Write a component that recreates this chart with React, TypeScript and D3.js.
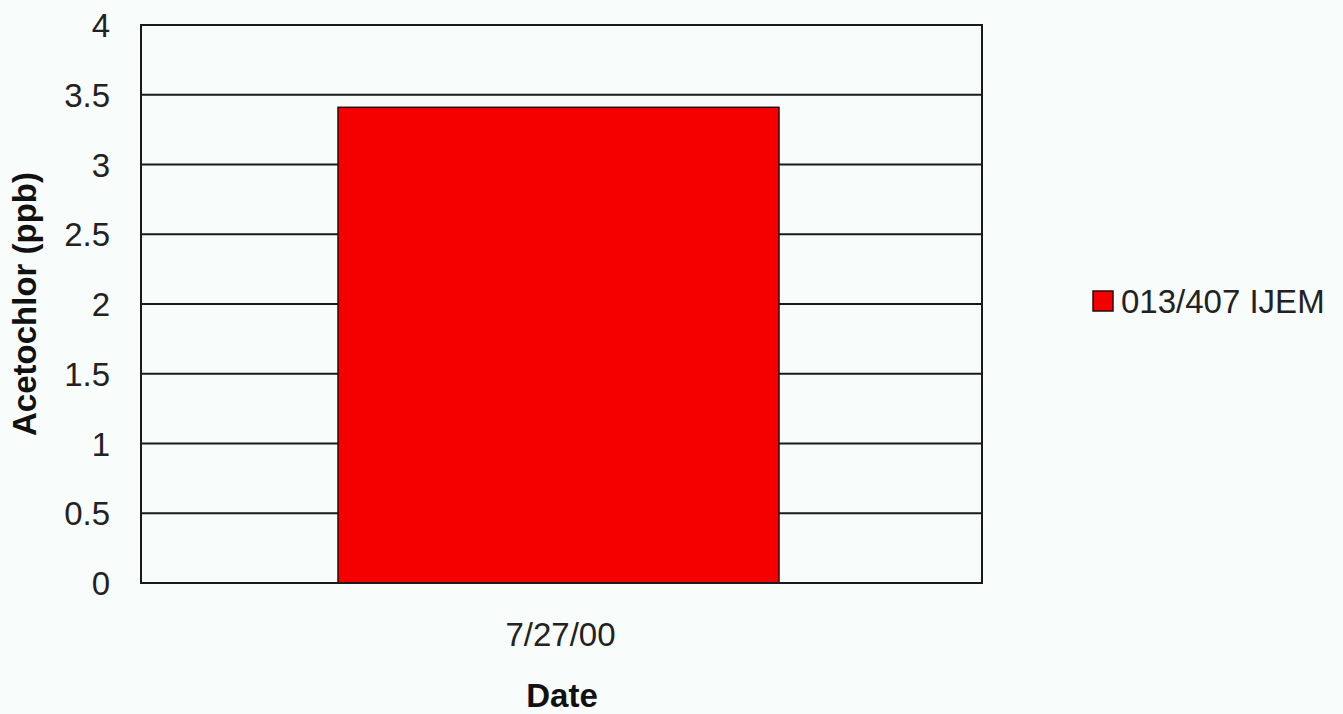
import React from "react";
import * as d3 from "d3";

const categories = ["7/27/00"];
const seriesName = "013/407 IJEM";
const values = [3.41];
const yTicks = [0, 0.5, 1, 1.5, 2, 2.5, 3, 3.5, 4];

export default function App() {
  const W = 1343, H = 714;
  const m = { left: 141, right: 982, top: 25, bottom: 583 };
  const x = d3
    .scaleBand()
    .domain(categories)
    .range([m.left, m.right])
    .paddingInner(0)
    .paddingOuter(0.4535)
    .align(0.4925);
  const y = d3.scaleLinear().domain([0, 4]).range([m.bottom, m.top]);
  const bw = x.bandwidth();
  const font = "'Liberation Sans', Arial, sans-serif";
  const fs = 33;
  return (
    <div style={{ position: "fixed", left: 0, top: 0 }}>
      <svg width={W} height={H} style={{ display: "block", background: "#f8fcfa" }}>
        <rect x={0} y={0} width={W} height={H} fill="#f8fcfa" />
        {yTicks.map((t) => (
          <g key={t}>
            <line x1={m.left} x2={m.right} y1={y(t)} y2={y(t)} stroke="#1a1a1a" strokeWidth={2} />
            <text x={110} y={y(t) + 12} textAnchor="end" fontFamily={font} fontSize={fs} fill="#222">
              {t}
            </text>
          </g>
        ))}
        {categories.map((c, i) => (
          <g key={c}>
            <rect
              x={x(c)!}
              y={y(values[i])}
              width={bw}
              height={y(0) - y(values[i])}
              fill="#f50000"
              stroke="#2a0a0a"
              strokeWidth={1.5}
            />
            <text x={x(c)! + bw / 2 + 2} y={646} textAnchor="middle" fontFamily={font} fontSize={fs} fill="#222">
              {c}
            </text>
          </g>
        ))}
        <rect x={m.left} y={m.top} width={m.right - m.left} height={m.bottom - m.top} fill="none" stroke="#1a1a1a" strokeWidth={2} />
        <text
          transform={`translate(36,304) rotate(-90)`}
          textAnchor="middle"
          fontFamily={font}
          fontWeight="bold"
          fontSize={fs}
          fill="#111"
        >
          Acetochlor (ppb)
        </text>
        <text x={562} y={707} textAnchor="middle" fontFamily={font} fontWeight="bold" fontSize={fs} fill="#111">
          Date
        </text>
        <rect x={1093} y={291} width={20} height={20} fill="#f50000" stroke="#2a0a0a" strokeWidth={1.5} />
        <text x={1121} y={313} fontFamily={font} fontSize={fs} fill="#222">
          {seriesName}
        </text>
      </svg>
    </div>
  );
}
